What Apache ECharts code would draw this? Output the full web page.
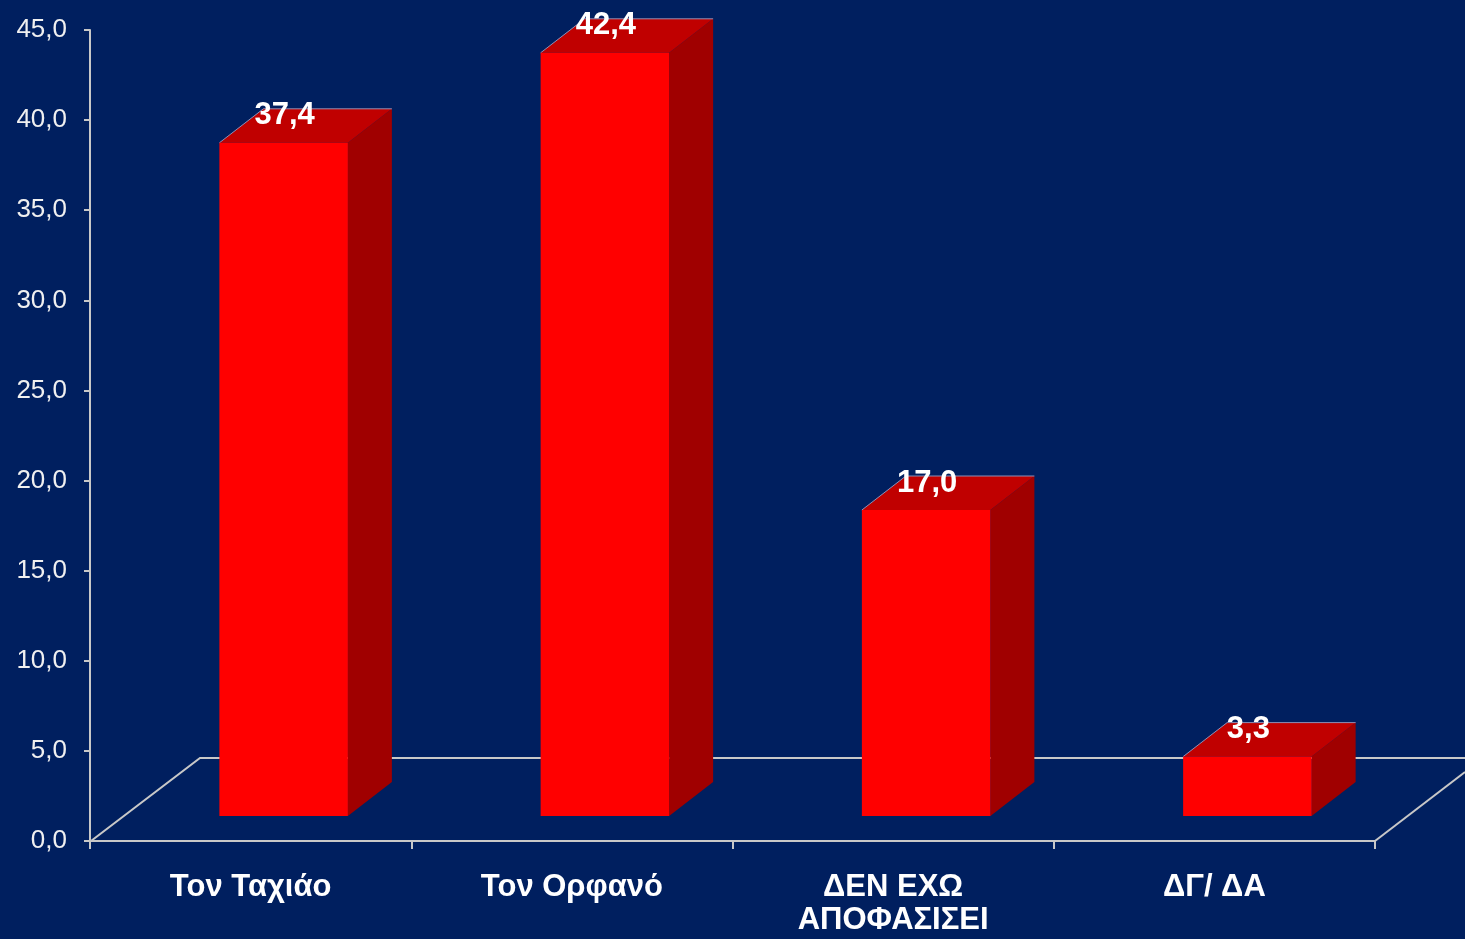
<!DOCTYPE html>
<html>
<head>
<meta charset="utf-8">
<script src="https://cdn.jsdelivr.net/npm/echarts@6/dist/echarts.min.js"></script>
<style>
html, body { margin: 0; padding: 0; background: #001F5F; }
#main { width: 1465px; height: 939px; }
</style>
</head>
<body>
<div id="main"></div>
<script>
var categories = ['Τον Ταχιάο', 'Τον Ορφανό', 'ΔΕΝ ΕΧΩ\nΑΠΟΦΑΣΙΣΕΙ', 'ΔΓ/ ΔΑ'];
var values = [37.4, 42.4, 17.0, 3.3];
var yMin = 0, yMax = 45, yStep = 5;

var FONT = '"Liberation Sans", Arial, sans-serif';
var AXIS = '#c8c8c8';
var DX = 44, DY = -34; // 3d depth

function fmt(v) {
	return v.toFixed(1).replace('.', ',');
}

var myChart = echarts.init(document.getElementById('main'));

function renderBar(params, api) {
	var v = api.value(1);
	var top = api.coord([api.value(0), v]);
	var base = api.coord([api.value(0), 0]);
	var w = api.size([1, 0])[0] * 0.4;
	var l = top[0] - w / 2, r = top[0] + w / 2, t = top[1], b = base[1];
	return {
		type: 'group',
		children: [
			{ type: 'polygon', shape: { points: [[r, t], [r + DX, t + DY], [r + DX, b + DY], [r, b]] },
				style: { fill: '#A00000' } },
			{ type: 'polygon', shape: { points: [[l, t], [r, t], [r + DX, t + DY], [l + DX, t + DY]] },
				style: { fill: '#C00000' } },
			{ type: 'polyline', shape: { points: [[l, t], [l + DX, t + DY], [r + DX, t + DY]] },
				style: { stroke: '#8a90b8', lineWidth: 1, fill: null } },
			{ type: 'rect', shape: { x: l, y: t, width: w, height: b - t },
				style: { fill: '#FF0000' } },
			{ type: 'text', style: { text: fmt(v), x: top[0] + 1, y: t - 27,
				align: 'center', verticalAlign: 'middle', fill: '#ffffff',
				font: 'bold 31px ' + FONT } }
		]
	};
}

var option = {
	backgroundColor: '#001F5F',
	animation: false,
	grid: [
		{ left: 90, right: 90, top: 30, bottom: 98 },
		{ left: 123, width: 1285, top: 6, bottom: 123 }
	],
	xAxis: [{
		gridIndex: 0,
		type: 'category',
		data: categories,
		boundaryGap: true,
		axisLine: { lineStyle: { color: AXIS, width: 2 } },
		axisTick: { show: true, alignWithLabel: false, length: 8, lineStyle: { color: AXIS, width: 2 } },
		axisLabel: { color: '#ffffff', fontFamily: FONT, fontWeight: 'bold', fontSize: 31,
			lineHeight: 33, margin: 30 },
		splitLine: { show: false }
	}, {
		gridIndex: 1,
		type: 'category',
		data: categories,
		show: false
	}],
	yAxis: [{
		gridIndex: 0,
		type: 'value',
		min: yMin, max: yMax, interval: yStep,
		axisLine: { show: true, lineStyle: { color: AXIS, width: 2 } },
		axisTick: { show: true, length: 6, lineStyle: { color: AXIS, width: 2 } },
		axisLabel: { color: '#f0f0f0', fontFamily: FONT, fontSize: 26, margin: 23,
			padding: [3, 0, 0, 0],
			formatter: function (v) { return fmt(v); } },
		splitLine: { show: false }
	}, {
		gridIndex: 1,
		type: 'value',
		min: yMin, max: yMax,
		show: false
	}],
	// floor of the 3d plot
	graphic: [
		{ type: 'polyline', z: 0, shape: { points: [[91, 841], [200, 758], [1465, 758]] },
			style: { stroke: AXIS, lineWidth: 2, fill: null } },
		{ type: 'line', z: 0, shape: { x1: 1375, y1: 841, x2: 1465, y2: 772 },
			style: { stroke: AXIS, lineWidth: 2 } }
	],
	series: [{
		type: 'custom',
		xAxisIndex: 1,
		yAxisIndex: 1,
		z: 5,
		renderItem: renderBar,
		data: values.map(function (v, i) { return [i, v]; })
	}]
};
myChart.setOption(option);
</script>
</body>
</html>
